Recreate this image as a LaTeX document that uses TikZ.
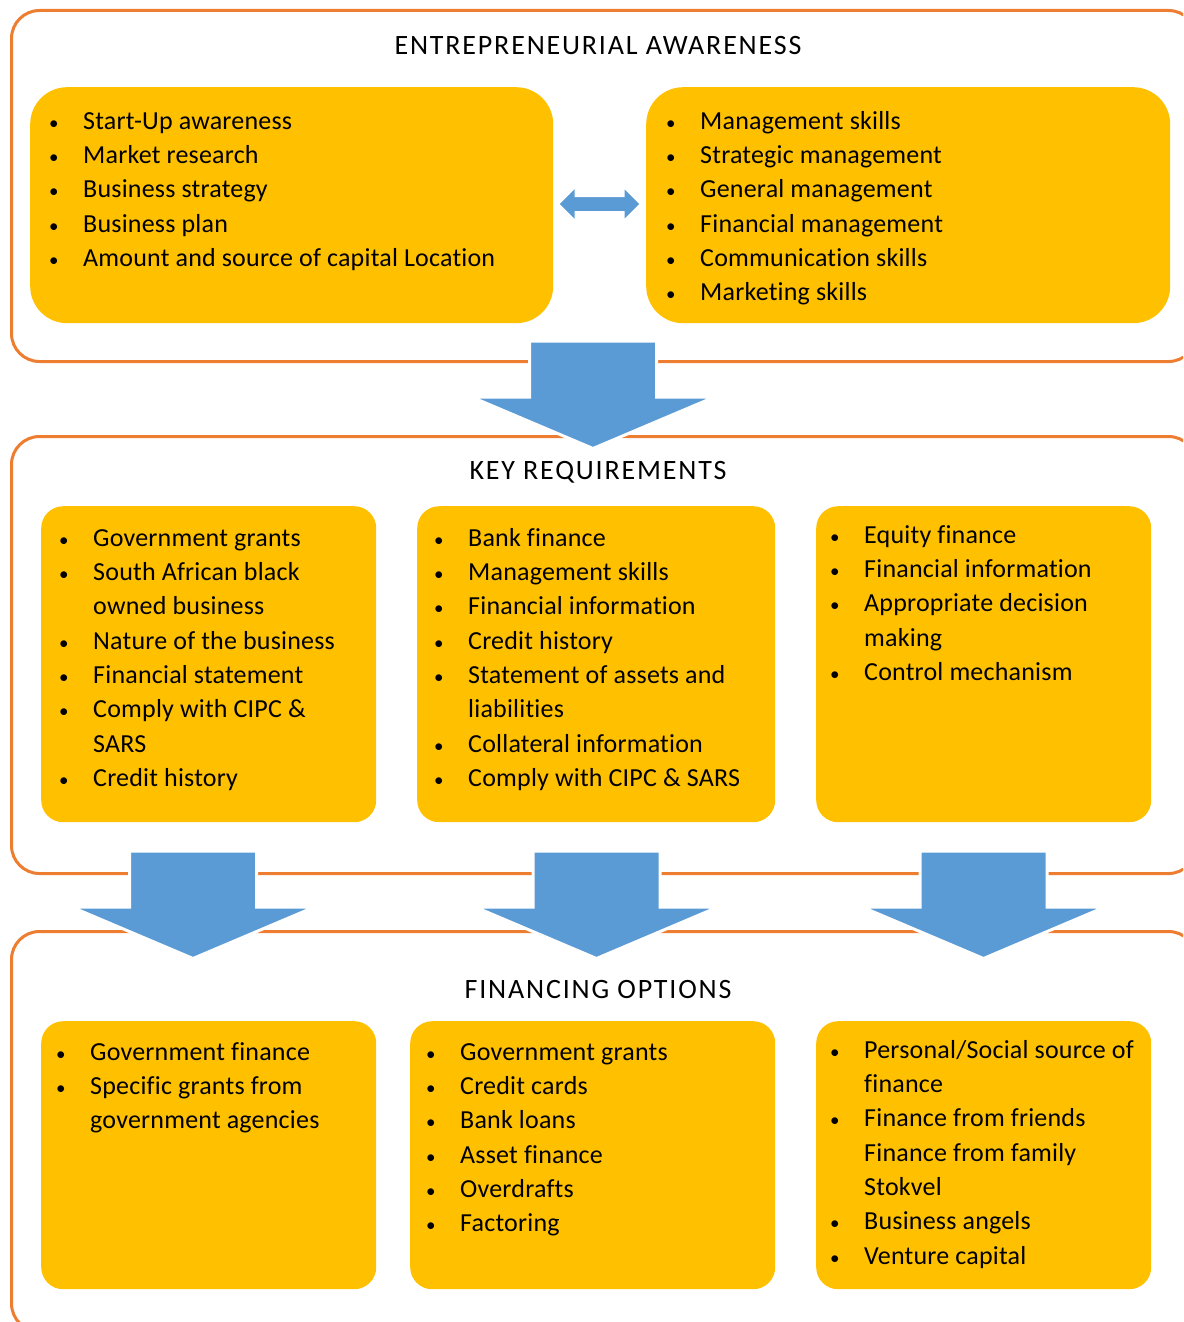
\documentclass[tikz,border=0pt]{standalone}
\usepackage{fontspec}
\setmainfont{Carlito}[Ligatures=NoCommon]
\definecolor{frameor}{HTML}{ED7D31}
\definecolor{boxyel}{HTML}{FFC000}
\definecolor{arrblue}{HTML}{5B9BD5}
\newcommand\bulletmark{{\fontsize{19}{19}\selectfont\textbullet}}
\newcommand\itm[1]{\makebox[35pt][l]{\hspace*{1pt}\bulletmark}#1\strut}
\newcommand\cnt[1]{\hspace*{35pt}#1\strut}
\begin{document}
\begin{tikzpicture}[x=1pt,y=-1pt,
  frame/.style={draw=frameor,line width=3pt,rounded corners=28pt,inner sep=0pt,anchor=north west},
  ybox/.style={fill=boxyel,rounded corners=#1,inner sep=0pt,anchor=north west},
  ybox/.default=22pt,
  title/.style={font=\fontsize{28}{32}\selectfont\addfontfeature{LetterSpace=6.5},inner sep=0pt},
  list/.style={font=\fontsize{26}{34.3}\selectfont\addfontfeature{LetterSpace=0.8},align=left,inner sep=0pt,anchor=north west},
  bluearrow/.style={fill=arrblue,draw=white,line width=3pt},
  pics/downarrow/.style={code={
    \path[bluearrow] (-63.5,0) -- (63.5,0) -- (63.5,56) -- (121.5,56) -- (0,107.5) -- (-121.5,56) -- (-63.5,56) -- cycle;}}
]
\useasboundingbox (0,0) rectangle (1183,1322);
\clip (0,0) rectangle (1183,1322);

% frames
\node[frame,minimum width=1185pt,minimum height=351pt] (fr1) at (10,9) {};
\node[frame,minimum width=1185pt,minimum height=437pt] (fr2) at (10,435) {};
\node[frame,minimum width=1185pt,minimum height=400pt] (fr3) at (10,930) {};

% titles
\node[title] (t1) at (598,46) {ENTREPRENEURIAL AWARENESS};
\node[title] (t2) at (598,472) {KEY REQUIREMENTS};
\node[title] (t3) at (598,989) {FINANCING OPTIONS};

% boxes row 1
\node[ybox=37pt,minimum width=523pt,minimum height=236pt] (bA) at (30,87) {};
\node[ybox=37pt,minimum width=524pt,minimum height=236pt] (bB) at (646,87) {};
% boxes row 2
\node[ybox,minimum width=335pt,minimum height=316pt] (bC) at (41,506) {};
\node[ybox,minimum width=358pt,minimum height=316pt] (bD) at (417,506) {};
\node[ybox,minimum width=335pt,minimum height=316pt] (bE) at (816,506) {};
% boxes row 3
\node[ybox,minimum width=335pt,minimum height=268pt] (bF) at (41,1021) {};
\node[ybox,minimum width=365pt,minimum height=268pt] (bG) at (410,1021) {};
\node[ybox,minimum width=335pt,minimum height=268pt] (bH) at (816,1021) {};

% double arrow between top boxes
\path[bluearrow,line width=1pt] (559,204) -- (575,188) -- (575,196.5) -- (624,196.5) -- (624,188) -- (640,204)
  -- (624,220) -- (624,211.5) -- (575,211.5) -- (575,220) -- cycle;

% big arrows
\pic (ar1) at (593,341) {downarrow};
\pic (ar2) at (193,851) {downarrow};
\pic (ar3) at (596.5,851) {downarrow};
\pic (ar4) at (983.5,851) {downarrow};

% texts
\node[list] (lA) at (48,105) {\itm{Start-Up awareness}\\\itm{Market research}\\\itm{Business strategy}\\\itm{Business plan}\\\itm{Amount and source of capital Location}};
\node[list] (lB) at (665,105) {\itm{Management skills}\\\itm{Strategic management}\\\itm{General management}\\\itm{Financial management}\\\itm{Communication skills}\\\itm{Marketing skills}};
\node[list] (lC) at (58,522) {\itm{Government grants}\\\itm{South African black}\\\cnt{owned business}\\\itm{Nature of the business}\\\itm{Financial statement}\\\itm{Comply with CIPC \&}\\\cnt{SARS}\\\itm{Credit history}};
\node[list] (lD) at (433,522) {\itm{Bank finance}\\\itm{Management skills}\\\itm{Financial information}\\\itm{Credit history}\\\itm{Statement of assets and}\\\cnt{liabilities}\\\itm{Collateral information}\\\itm{Comply with CIPC \& SARS}};
\node[list] (lE) at (829,519) {\itm{Equity finance}\\\itm{Financial information}\\\itm{Appropriate decision}\\\cnt{making}\\\itm{Control mechanism}};
\node[list] (lF) at (55,1036) {\itm{Government finance}\\\itm{Specific grants from}\\\cnt{government agencies}};
\node[list] (lG) at (425,1036) {\itm{Government grants}\\\itm{Credit cards}\\\itm{Bank loans}\\\itm{Asset finance}\\\itm{Overdrafts}\\\itm{Factoring}};
\node[list] (lH) at (829,1034) {\itm{Personal/Social source of}\\\cnt{finance}\\\itm{Finance from friends}\\\cnt{Finance from family}\\\cnt{Stokvel}\\\itm{Business angels}\\\itm{Venture capital}};
\end{tikzpicture}
\end{document}
